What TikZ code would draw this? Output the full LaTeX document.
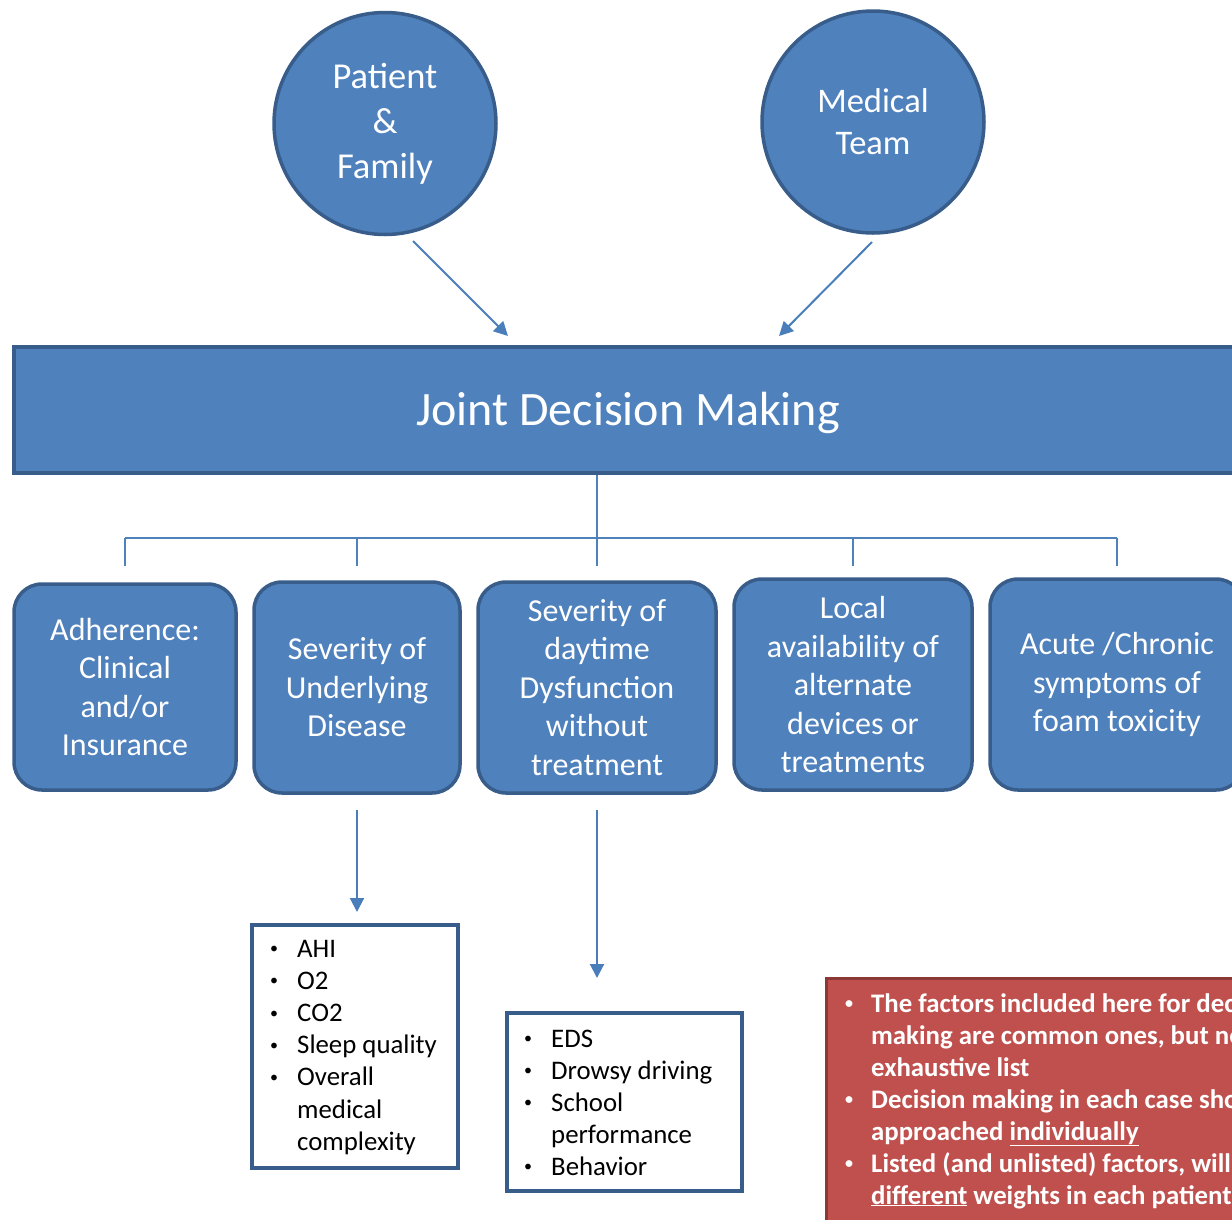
\documentclass[tikz,border=0pt]{standalone}
\usepackage{fontspec}
\setmainfont{Carlito}
\usetikzlibrary{arrows.meta}
\definecolor{bfill}{HTML}{4F81BD}
\definecolor{bline}{HTML}{385D8A}
\definecolor{conn}{HTML}{4A7EBB}
\definecolor{rfill}{HTML}{C0504D}
\definecolor{rline}{HTML}{8C3836}
\tikzset{
  party/.style={circle, fill=bfill, draw=bline, line width=3.5pt, minimum size=222pt, inner sep=0pt, text=white, align=center},
  factor/.style={rectangle, rounded corners=28pt, fill=bfill, draw=bline, line width=3.5pt, inner sep=0pt, text=white, align=center, font=\fontsize{32}{38.5}\selectfont},
  bigbar/.style={rectangle, fill=bfill, draw=bline, line width=4pt, inner sep=0pt, text=white, font=\fontsize{48}{58}\selectfont},
  listbox/.style={rectangle, fill=white, draw=bline, line width=4pt, inner sep=0pt},
  notebox/.style={rectangle, fill=rfill, draw=rline, line width=3pt, inner sep=0pt},
  listline/.style={anchor=base west, inner sep=0pt, font=\fontsize{26.8}{32}\selectfont, text=black},
  listbullet/.style={anchor=base, inner sep=0pt, yshift=3.4pt, font=\fontsize{16}{20}\selectfont, text=black},
  noteline/.style={anchor=base west, inner sep=0pt, font=\bfseries\fontsize{26.8}{32}\selectfont, text=white},
  notebullet/.style={anchor=base, inner sep=0pt, yshift=3.4pt, font=\bfseries\fontsize{16}{20}\selectfont, text=white},
  flow/.style={draw=conn, line width=2pt, -{Triangle[length=14pt,width=14pt]}},
  tree/.style={draw=bfill, line width=1.5pt},
}
\begin{document}
\begin{tikzpicture}[x=1pt,y=-1pt]
\useasboundingbox (0,0) rectangle (1232,1219);
\clip (0,0) rectangle (1232,1219);

% top parties
\node[party, font=\fontsize{36.5}{45}\selectfont] (pf) at (385,123.5) {Patient\\\&\\Family};
\node[party, font=\fontsize{34.5}{42}\selectfont] (mt) at (873,122) {Medical\\Team};

% joint decision bar
\node[bigbar, minimum width=1228pt, minimum height=126pt, text height=36pt, text depth=5pt] (jdm) at (628,410) {Joint Decision Making};

% arrows into bar
\coordinate (pfs) at (413,241);
\coordinate (pfe) at (508,336);
\coordinate (mts) at (872,242);
\coordinate (mte) at (779,336);
\draw[flow] (pfs) -- (pfe);
\draw[flow] (mts) -- (mte);

% factor boxes
\node[factor, minimum width=222pt, minimum height=206pt] (f1) at (125,687) {Adherence:\\Clinical\\and/or\\Insurance};
\node[factor, minimum width=206pt, minimum height=211pt] (f2) at (357,687.5) {Severity of\\Underlying\\Disease};
\node[factor, minimum width=238pt, minimum height=211pt] (f3) at (597,687.5) {Severity of\\daytime\\Dysfunction\\without\\treatment};
\node[factor, minimum width=238pt, minimum height=211pt] (f4) at (853,684.5) {Local\\availability of\\alternate\\devices or\\treatments};
\node[factor, minimum width=254pt, minimum height=211pt] (f5) at (1117,684.5) {Acute /Chronic\\symptoms of\\foam toxicity};

% tree connector
\coordinate (tb) at (597,538);
\coordinate (tl) at (125,538);
\coordinate (tr) at (1117,538);
\coordinate (t1) at (125,566);
\coordinate (t2) at (357,566);
\coordinate (t3) at (597,566);
\coordinate (t4) at (853,566);
\coordinate (t5) at (1117,566);
\coordinate (t2h) at (357,538);
\coordinate (t4h) at (853,538);
\draw[tree] (jdm.south -| tb) -- (tb);
\draw[tree] (tl) -- (tr);
\draw[tree] (tl) -- (t1);
\draw[tree] (t2h) -- (t2);
\draw[tree] (tb) -- (t3);
\draw[tree] (t4h) -- (t4);
\draw[tree] (tr) -- (t5);

% list boxes
\node[listbox, minimum width=206pt, minimum height=243pt] (l1) at (355,1046.5) {};
\node[listbox, minimum width=235pt, minimum height=178pt] (l2) at (624.5,1102) {};

% down arrows
\coordinate (d2s) at (357,810);
\coordinate (d2e) at (357,912);
\coordinate (d3s) at (597,810);
\coordinate (d3e) at (597,978);
\draw[flow] (d2s) -- (d2e);
\draw[flow] (d3s) -- (d3e);

% list 1 text
\node[listbullet] (l1b1) at (274,957) {•};
\node[listline] (l1t1) at (297,957) {AHI};
\node[listbullet] (l1b2) at (274,989.2) {•};
\node[listline] (l1t2) at (297,989.2) {O2};
\node[listbullet] (l1b3) at (274,1021.4) {•};
\node[listline] (l1t3) at (297,1021.4) {CO2};
\node[listbullet] (l1b4) at (274,1053.6) {•};
\node[listline] (l1t4) at (297,1053.6) {Sleep quality};
\node[listbullet] (l1b5) at (274,1085.8) {•};
\node[listline] (l1t5) at (297,1085.8) {Overall};
\node[listline] (l1t6) at (297,1118) {medical};
\node[listline] (l1t7) at (297,1150.2) {complexity};

% list 2 text
\node[listbullet] (l2b1) at (528,1047) {•};
\node[listline] (l2t1) at (551,1047) {EDS};
\node[listbullet] (l2b2) at (528,1079) {•};
\node[listline] (l2t2) at (551,1079) {Drowsy driving};
\node[listbullet] (l2b3) at (528,1111) {•};
\node[listline] (l2t3) at (551,1111) {School};
\node[listline] (l2t4) at (551,1143) {performance};
\node[listbullet] (l2b5) at (528,1175) {•};
\node[listline] (l2t5) at (551,1175) {Behavior};

% note box
\node[notebox, minimum width=480pt, minimum height=330pt, anchor=north west] (nb) at (824.5,976.5) {};
\node[notebullet] (nb1) at (849,1012) {•};
\node[noteline] (nt1) at (871,1012) {The factors included here for decision};
\node[noteline] (nt2) at (871,1044) {making are common ones, but not an};
\node[noteline] (nt3) at (871,1076) {exhaustive list};
\node[notebullet] (nb2) at (849,1108) {•};
\node[noteline] (nt4) at (871,1108) {Decision making in each case should be};
\node[noteline] (nt5) at (871,1140) {approached \underline{individually}};
\node[notebullet] (nb3) at (849,1172) {•};
\node[noteline] (nt6) at (871,1172) {Listed (and unlisted) factors, will have};
\node[noteline] (nt7) at (871,1204) {\underline{different} weights in each patient};
\end{tikzpicture}
\end{document}
